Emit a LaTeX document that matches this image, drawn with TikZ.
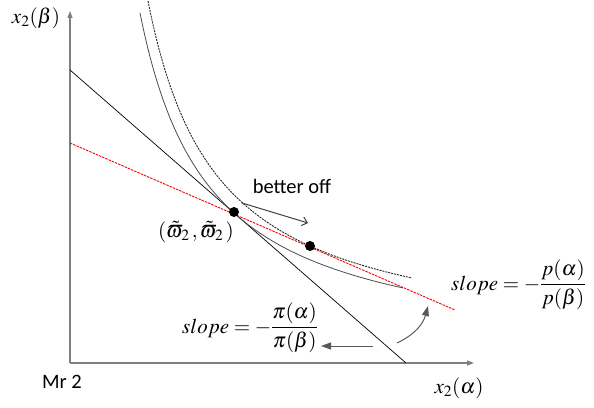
\documentclass[tikz,border=0pt]{standalone}
\usepackage{mathptmx}
\usepackage[no-math]{fontspec}
\setsansfont{Carlito}
\usetikzlibrary{arrows.meta}
\tikzset{
  axisline/.style={draw=black!50, line width=1.1pt, -{Triangle[length=7pt,width=5pt]}},
  budget/.style={draw=black, line width=0.7pt},
  redline/.style={draw=red, line width=0.9pt, dash pattern=on 2.5pt off 1pt},
  icsolid/.style={draw=black!70, line width=0.8pt},
  icdashed/.style={draw=black!85, line width=0.9pt, dash pattern=on 2pt off 1pt},
  dotnode/.style={circle, fill=black, inner sep=0pt, minimum size=10pt},
  mathlbl/.style={inner sep=0pt, font=\fontsize{21}{24}\selectfont},
  sanslbl/.style={inner sep=0pt, font=\sffamily\fontsize{20.5}{24}\selectfont},
  grayarrow/.style={draw=black!65, line width=1pt, -{Triangle[length=10pt,width=7pt]}},
  openarrow/.style={draw=black!75, line width=1pt, -{Straight Barb[length=5pt,width=9pt]}}
}
\begin{document}
\begin{tikzpicture}[x=1pt,y=1pt]
\useasboundingbox (0,0) rectangle (594,407);
% axes
\coordinate (O) at (70,44);
\coordinate (ytop) at (70,396);
\coordinate (xend) at (474,44);
\draw[axisline] (O) -- (ytop);
\draw[axisline] (O) -- (xend);
% budget line
\coordinate (b1) at (70,337);
\coordinate (b2) at (406,44);
\draw[budget] (b1) -- (b2);
% red price line
\coordinate (r1) at (70,264);
\coordinate (r2) at (455,97);
\draw[redline] (r1) -- (r2);
% indifference curves
\draw[icsolid] plot[domain=70:333, samples=120, smooth] ({\x+70}, {240.79/((\x-0.7)/100)+2.6+44});
\draw[icdashed] plot[domain=78:342, samples=120, smooth] ({\x+70}, {241.51/((\x-8.9)/100)+12.5+44});
% dots
\node[dotnode] (d1) at (234,195) {};
\node[dotnode] (d2) at (310,161) {};
% labels
\node[mathlbl] (ylab) at (36,389) {$x_2(\beta)$};
\node[mathlbl] (xlab) at (459,19) {$x_2(\alpha)$};
\node[sanslbl] (mr) at (62,25) {Mr 2};
\node[sanslbl] (better) at (292,221) {better off};
\node[mathlbl] (omega) at (196,175) {$(\tilde{\varpi}_2\,,\tilde{\varpi}_2\,)$};
\node[mathlbl, anchor=west] (slopep) at (451,122) {$\displaystyle slope=-\frac{p(\alpha)}{p(\beta)}$};
\node[mathlbl, anchor=west] (slopepi) at (182,79) {$\displaystyle slope=-\frac{\pi(\alpha)}{\pi(\beta)}$};
% arrows
\coordinate (bo1) at (242,204);
\coordinate (bo2) at (308,184);
\draw[openarrow] (bo1) -- (bo2);
\coordinate (la1) at (373,61);
\coordinate (la2) at (321,61);
\draw[grayarrow] (la1) -- (la2);
\coordinate (ca1) at (397,64);
\coordinate (ca2) at (428,101);
\draw[grayarrow] (ca1) to[out=25,in=-105] (ca2);
\end{tikzpicture}
\end{document}
